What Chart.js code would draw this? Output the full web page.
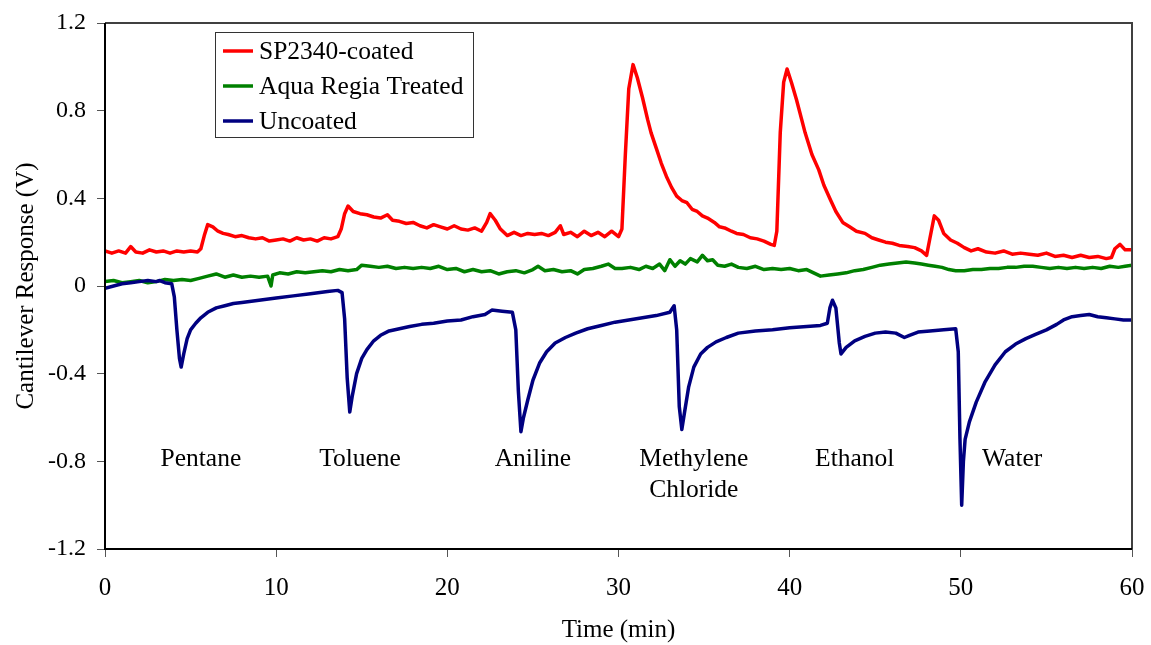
<!DOCTYPE html>
<html>
<head>
<meta charset="utf-8">
<script src="https://cdn.jsdelivr.net/npm/chart.js@4"></script>
<style>
  html, body { margin: 0; padding: 0; background: #fff; }
  #wrap { width: 1151px; height: 645px; }
</style>
</head>
<body>
<div id="wrap"><canvas id="grafico" width="1151" height="645"></canvas></div>
<script>
// Time (min) and response (V)
const coatedTime = [0,0.4,0.8,1.2,1.5,1.8,2.2,2.6,3.0,3.4,3.8,4.2,4.6,5.0,5.4,5.6,5.8,6.0,6.3,6.6,6.9,7.2,7.6,8.0,8.4,8.8,9.2,9.6,10.0,10.4,10.8,11.2,11.6,12.0,12.4,12.8,13.2,13.6,13.8,14.0,14.2,14.5,14.9,15.3,15.7,16.1,16.5,16.8,17.2,17.6,18.0,18.4,18.8,19.2,19.6,20.0,20.4,20.8,21.2,21.6,22.0,22.3,22.5,22.8,23.1,23.5,23.9,24.3,24.7,25.1,25.5,25.9,26.3,26.6,26.8,27.2,27.6,28.0,28.4,28.8,29.2,29.6,30.0,30.2,30.4,30.6,30.85,31.1,31.4,31.7,31.9,32.2,32.5,32.8,33.1,33.4,33.7,34.0,34.3,34.6,34.9,35.2,35.6,35.9,36.2,36.6,36.9,37.3,37.7,38.1,38.5,38.9,39.1,39.25,39.45,39.65,39.85,40.1,40.4,40.7,40.9,41.3,41.7,42.0,42.4,42.7,43.1,43.5,43.9,44.4,44.8,45.2,45.6,46.0,46.4,46.9,47.3,47.7,48.0,48.2,48.45,48.7,49.0,49.4,49.8,50.2,50.6,51.0,51.5,52.0,52.5,53.0,53.5,54.0,54.5,55.0,55.5,56.0,56.5,57.0,57.5,58.0,58.5,58.8,59.0,59.3,59.6,60.0];
const coatedVolts = [0.16,0.15,0.16,0.15,0.18,0.155,0.15,0.165,0.155,0.16,0.15,0.16,0.155,0.16,0.155,0.17,0.23,0.28,0.27,0.25,0.24,0.235,0.225,0.23,0.22,0.215,0.22,0.205,0.21,0.215,0.205,0.22,0.21,0.215,0.205,0.22,0.215,0.225,0.26,0.33,0.365,0.34,0.33,0.325,0.315,0.31,0.325,0.3,0.295,0.285,0.29,0.275,0.265,0.28,0.27,0.26,0.275,0.26,0.255,0.265,0.25,0.29,0.33,0.3,0.26,0.23,0.245,0.23,0.24,0.235,0.24,0.23,0.245,0.275,0.235,0.245,0.225,0.25,0.23,0.245,0.225,0.25,0.225,0.26,0.6,0.9,1.01,0.95,0.86,0.76,0.70,0.63,0.56,0.5,0.45,0.41,0.39,0.38,0.35,0.34,0.32,0.31,0.29,0.27,0.265,0.25,0.24,0.235,0.22,0.215,0.205,0.19,0.185,0.25,0.7,0.93,0.99,0.93,0.85,0.76,0.70,0.6,0.53,0.46,0.39,0.34,0.29,0.27,0.25,0.24,0.22,0.21,0.2,0.195,0.185,0.18,0.175,0.16,0.14,0.22,0.32,0.3,0.24,0.21,0.195,0.175,0.16,0.17,0.155,0.15,0.16,0.145,0.15,0.145,0.14,0.15,0.135,0.14,0.13,0.14,0.13,0.135,0.125,0.13,0.17,0.19,0.165,0.165];

const treatedTime = [0,0.5,1.0,1.5,2.0,2.5,3.0,3.5,4.0,4.5,5.0,5.5,6.0,6.5,7.0,7.5,8.0,8.5,9.0,9.5,9.7,9.8,10.2,10.7,11.2,11.7,12.2,12.7,13.2,13.7,14.2,14.7,15.0,15.5,16.0,16.5,17.0,17.5,18.0,18.5,19.0,19.5,20.0,20.5,21.0,21.5,22.0,22.5,23.0,23.5,24.0,24.5,25.0,25.3,25.7,26.2,26.7,27.2,27.6,28.0,28.5,29.0,29.4,29.8,30.2,30.7,31.2,31.6,32.0,32.4,32.7,33.0,33.3,33.6,33.9,34.2,34.6,34.9,35.2,35.5,35.8,36.2,36.6,37.0,37.5,38.0,38.5,39.0,39.5,40.0,40.5,41.0,41.4,41.8,42.3,42.8,43.3,43.8,44.3,44.8,45.3,45.8,46.3,46.8,47.3,47.7,48.1,48.5,48.9,49.3,49.7,50.2,50.7,51.2,51.7,52.2,52.7,53.2,53.7,54.2,54.7,55.2,55.7,56.2,56.7,57.2,57.7,58.2,58.7,59.2,59.6,60.0];
const treatedVolts = [0.02,0.025,0.015,0.02,0.025,0.015,0.02,0.03,0.025,0.03,0.025,0.035,0.045,0.055,0.04,0.05,0.04,0.045,0.04,0.045,0.0,0.05,0.06,0.055,0.065,0.06,0.065,0.07,0.065,0.075,0.07,0.075,0.095,0.09,0.085,0.09,0.08,0.085,0.08,0.085,0.08,0.09,0.075,0.08,0.065,0.075,0.065,0.07,0.055,0.065,0.07,0.06,0.075,0.09,0.07,0.075,0.065,0.07,0.055,0.075,0.08,0.09,0.1,0.08,0.08,0.085,0.075,0.09,0.08,0.1,0.07,0.12,0.09,0.115,0.1,0.125,0.11,0.14,0.115,0.12,0.095,0.09,0.1,0.085,0.08,0.09,0.075,0.08,0.075,0.08,0.07,0.075,0.06,0.045,0.05,0.055,0.06,0.07,0.075,0.085,0.095,0.1,0.105,0.11,0.105,0.1,0.095,0.09,0.085,0.075,0.07,0.07,0.075,0.075,0.08,0.08,0.085,0.085,0.09,0.09,0.085,0.08,0.085,0.08,0.085,0.08,0.085,0.08,0.09,0.085,0.09,0.095];

const uncoatedTime = [0,0.5,1.0,1.5,2.0,2.5,3.0,3.2,3.5,3.9,4.05,4.2,4.35,4.45,4.6,4.8,5.0,5.3,5.6,6.0,6.5,7.0,7.5,8.0,9.0,10.0,11.0,12.0,13.0,13.6,13.85,14.0,14.15,14.3,14.45,14.7,15.0,15.3,15.7,16.1,16.6,17.2,17.8,18.5,19.2,20.0,20.8,21.5,22.2,22.6,23.2,23.8,24.0,24.15,24.3,24.45,24.7,25.0,25.4,25.8,26.3,26.9,27.5,28.2,29.0,29.8,30.6,31.4,32.2,33.0,33.25,33.4,33.55,33.7,33.85,34.1,34.4,34.8,35.2,35.7,36.3,37.0,38.0,39.0,40.0,41.0,41.8,42.2,42.35,42.5,42.7,42.9,43.0,43.3,43.8,44.4,45.0,45.6,46.2,46.7,47.0,47.5,48.2,49.0,49.7,49.85,49.95,50.05,50.15,50.25,50.5,50.9,51.4,52.0,52.6,53.2,53.8,54.4,55.0,55.6,56.0,56.5,57.0,57.5,58.0,58.5,59.0,59.5,60.0];
const uncoatedVolts = [-0.01,0.0,0.01,0.015,0.02,0.025,0.02,0.025,0.015,0.01,-0.05,-0.2,-0.33,-0.37,-0.31,-0.24,-0.2,-0.17,-0.145,-0.12,-0.1,-0.09,-0.08,-0.075,-0.065,-0.055,-0.045,-0.035,-0.025,-0.02,-0.03,-0.15,-0.42,-0.575,-0.5,-0.4,-0.33,-0.29,-0.25,-0.225,-0.205,-0.195,-0.185,-0.175,-0.17,-0.16,-0.155,-0.14,-0.13,-0.11,-0.115,-0.12,-0.2,-0.48,-0.665,-0.6,-0.52,-0.43,-0.35,-0.3,-0.26,-0.235,-0.215,-0.195,-0.18,-0.165,-0.155,-0.145,-0.135,-0.12,-0.09,-0.2,-0.55,-0.655,-0.58,-0.46,-0.37,-0.31,-0.28,-0.255,-0.235,-0.215,-0.205,-0.2,-0.19,-0.185,-0.18,-0.17,-0.1,-0.065,-0.1,-0.26,-0.31,-0.28,-0.25,-0.23,-0.215,-0.21,-0.215,-0.235,-0.225,-0.21,-0.205,-0.2,-0.195,-0.3,-0.7,-1.0,-0.8,-0.7,-0.62,-0.53,-0.44,-0.36,-0.3,-0.265,-0.24,-0.22,-0.2,-0.175,-0.155,-0.14,-0.135,-0.13,-0.14,-0.145,-0.15,-0.155,-0.155];

const seriesNames = ['SP2340-coated', 'Aqua Regia Treated', 'Uncoated'];
const seriesColors = ['#ff0000', '#008000', '#000080'];

// Solvent labels: name lines, time position, response position
const solventNames = [['Pentane'], ['Toluene'], ['Aniline'], ['Methylene', 'Chloride'], ['Ethanol'], ['Water']];
const solventTimes = [5.6, 14.9, 25.0, 34.4, 43.8, 53.0];
const solventLevel = -0.79;

const fonte = '"Liberation Serif", "Times New Roman", serif';

function pares(ts, vs) {
    return ts.map((t, i) => ({ x: t, y: vs[i] }));
}

// Moldura superior/direita e eixos
const moldura = {
    id: 'moldura',
    afterDatasetsDraw(chart) {
        const { ctx, chartArea: a } = chart;
        ctx.save();
        ctx.strokeStyle = '#404040';
        ctx.lineWidth = 2;
        ctx.beginPath();
        ctx.moveTo(a.left, a.top);
        ctx.lineTo(a.right, a.top);
        ctx.lineTo(a.right, a.bottom);
        ctx.stroke();
        ctx.strokeStyle = '#000';
        ctx.beginPath();
        ctx.moveTo(a.left, a.top);
        ctx.lineTo(a.left, a.bottom);
        ctx.lineTo(a.right, a.bottom);
        ctx.stroke();
        ctx.restore();
    }
};

// Legenda dentro da área do gráfico
const legendaBox = {
    id: 'legendaBox',
    afterDraw(chart) {
        const { ctx, chartArea: a } = chart;
        const x0 = a.left + 110, y0 = a.top + 9;
        ctx.save();
        ctx.fillStyle = '#fff';
        ctx.fillRect(x0, y0, 258, 105);
        ctx.strokeStyle = '#333';
        ctx.lineWidth = 1;
        ctx.strokeRect(x0 + 0.5, y0 + 0.5, 258, 105);
        ctx.font = '25.5px ' + fonte;
        ctx.textBaseline = 'middle';
        seriesNames.forEach((nome, i) => {
            const y = y0 + 19 + i * 35;
            ctx.strokeStyle = seriesColors[i];
            ctx.lineWidth = 3.5;
            ctx.beginPath();
            ctx.moveTo(x0 + 8, y);
            ctx.lineTo(x0 + 38, y);
            ctx.stroke();
            ctx.fillStyle = '#000';
            ctx.fillText(nome, x0 + 44, y + 1);
        });
        ctx.restore();
    }
};

// Nomes dos solventes
const solventes = {
    id: 'solventes',
    afterDraw(chart) {
        const { ctx, scales } = chart;
        ctx.save();
        ctx.font = '25.5px ' + fonte;
        ctx.fillStyle = '#000';
        ctx.textAlign = 'center';
        ctx.textBaseline = 'middle';
        solventNames.forEach((linhas, i) => {
            const x = scales.x.getPixelForValue(solventTimes[i]);
            const y = scales.y.getPixelForValue(solventLevel);
            linhas.forEach((txt, j) => ctx.fillText(txt, x, y + j * 31));
        });
        ctx.restore();
    }
};

const ctx = document.getElementById('grafico').getContext('2d');
new Chart(ctx, {
    type: 'line',
    data: {
        datasets: [
            { label: seriesNames[0], data: pares(coatedTime, coatedVolts), borderColor: seriesColors[0], order: 2 },
            { label: seriesNames[1], data: pares(treatedTime, treatedVolts), borderColor: seriesColors[1], order: 1 },
            { label: seriesNames[2], data: pares(uncoatedTime, uncoatedVolts), borderColor: seriesColors[2], order: 0 }
        ]
    },
    options: {
        responsive: false,
        animation: false,
        layout: { padding: { top: 23, right: 19, left: 0, bottom: 0 } },
        elements: {
            line: { borderWidth: 3.5, tension: 0, borderJoinStyle: 'round', borderCapStyle: 'round' },
            point: { radius: 0 }
        },
        scales: {
            x: {
                type: 'linear',
                min: 0,
                max: 60,
                afterFit(scale) {
                    scale.height = 96;
                    scale.paddingLeft = 0;
                    scale.paddingRight = 0;
                },
                ticks: {
                    stepSize: 10,
                    color: '#000',
                    padding: 16,
                    maxRotation: 0,
                    font: { family: fonte, size: 25 }
                },
                grid: { drawOnChartArea: false, tickLength: 8, color: '#555' },
                border: { display: false },
                title: {
                    display: true,
                    text: 'Time (min)',
                    color: '#000',
                    font: { family: fonte, size: 25 },
                    padding: { top: 0, bottom: 0 }
                }
            },
            y: {
                type: 'linear',
                min: -1.2,
                max: 1.2,
                afterFit(scale) {
                    scale.width = 105;
                    scale.paddingTop = 0;
                    scale.paddingBottom = 0;
                },
                ticks: {
                    stepSize: 0.4,
                    color: '#000',
                    padding: 11,
                    font: { family: fonte, size: 24 },
                    callback: v => Math.abs(v) < 1e-9 ? '0' : v.toFixed(1)
                },
                grid: { drawOnChartArea: false, tickLength: 8, color: '#555' },
                border: { display: false },
                title: {
                    display: true,
                    text: 'Cantilever Response (V)',
                    color: '#000',
                    font: { family: fonte, size: 25 },
                    padding: { top: 11, bottom: 0 }
                }
            }
        },
        plugins: {
            legend: { display: false },
            tooltip: { enabled: false }
        }
    },
    plugins: [moldura, legendaBox, solventes]
});
</script>
</body>
</html>
